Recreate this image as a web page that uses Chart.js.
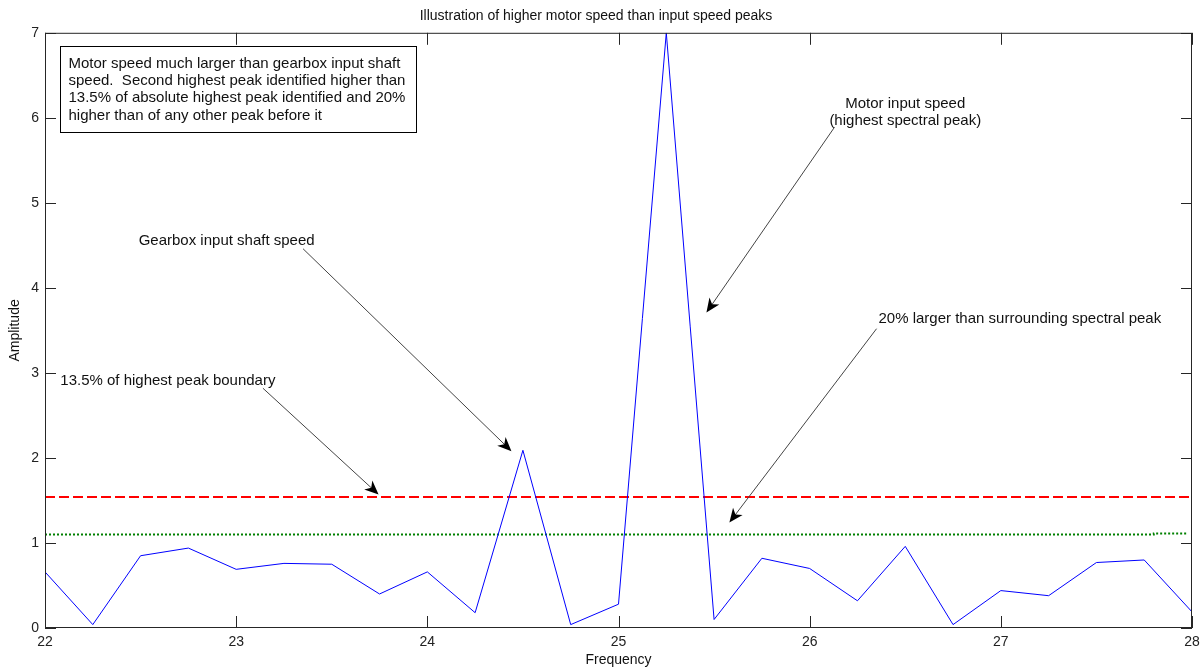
<!DOCTYPE html>
<html>
<head>
<meta charset="utf-8">
<script src="https://cdn.jsdelivr.net/npm/chart.js@4"></script>
<style>
  html, body { margin: 0; padding: 0; background: #fff; }
  #wrap { width: 1202px; height: 669px; }
</style>
</head>
<body>
<div id="wrap"><canvas id="specChart"></canvas></div>
<script>
const frequency = [22, 22.25, 22.5, 22.75, 23, 23.25, 23.5, 23.75, 24, 24.25, 24.5, 24.75, 25,
                   25.25, 25.5, 25.75, 26, 26.25, 26.5, 26.75, 27, 27.25, 27.5, 27.75, 28];
const amplitude = [0.66, 0.04, 0.85, 0.94, 0.69, 0.76, 0.75, 0.40, 0.66, 0.18, 2.09, 0.04, 0.28,
                   7.0, 0.10, 0.82, 0.70, 0.32, 0.96, 0.04, 0.44, 0.38, 0.77, 0.80, 0.19];

const boundaryX = [22, 28];
const boundaryY = [1.54, 1.54];
const surroundX = [22, 27.8, 27.8, 27.97];
const surroundY = [1.1, 1.1, 1.11, 1.11];

const xTicks = [22, 23, 24, 25, 26, 27, 28];
const yTicks = [0, 1, 2, 3, 4, 5, 6, 7];

// annotations, in data units
const labels = [
  { text: 'Gearbox input shaft speed', x: 22.49, y: 4.55, align: 'left' },
  { text: 'Motor input speed', x: 26.5, y: 6.17, align: 'center' },
  { text: '(highest spectral peak)', x: 26.5, y: 5.97, align: 'center' },
  { text: '20% larger than surrounding spectral peak', x: 26.36, y: 3.64, align: 'left' },
  { text: '13.5% of highest peak boundary', x: 22.08, y: 2.91, align: 'left' }
];
const arrows = [
  { from: [23.35, 4.46], to: [24.44, 2.08] },
  { from: [26.13, 5.89], to: [25.46, 3.71] },
  { from: [26.35, 3.52], to: [25.58, 1.24] },
  { from: [23.14, 2.82], to: [23.745, 1.57] }
];
const noteLines = [
  'Motor speed much larger than gearbox input shaft',
  'speed.  Second highest peak identified higher than',
  '13.5% of absolute highest peak identified and 20%',
  'higher than of any other peak before it'
];
const noteBox = { x0: 22.08, x1: 23.94, y0: 6.85, y1: 5.83 };

const FONT = '"Liberation Sans", Arial, sans-serif';
const pts = (xs, ys) => xs.map((x, i) => ({ x: x, y: ys[i] }));

const matlabAxes = {
  id: 'matlabAxes',
  afterDatasetsDraw(chart) {
    const { ctx, chartArea: a, scales: { x, y } } = chart;
    ctx.save();
    ctx.strokeStyle = '#262626';
    ctx.lineWidth = 1;
    ctx.strokeRect(a.left + 0.5, a.top + 0.5, a.right - a.left - 1, a.bottom - a.top - 1);
    ctx.beginPath();
    xTicks.forEach(v => {
      const px = Math.round(x.getPixelForValue(v)) + 0.5;
      ctx.moveTo(px, a.bottom); ctx.lineTo(px, a.bottom - 12);
      ctx.moveTo(px, a.top); ctx.lineTo(px, a.top + 12);
    });
    yTicks.forEach(v => {
      const py = Math.round(y.getPixelForValue(v)) + 0.5;
      ctx.moveTo(a.left, py); ctx.lineTo(a.left + 11, py);
      ctx.moveTo(a.right, py); ctx.lineTo(a.right - 11, py);
    });
    ctx.stroke();

    // note box
    const bx0 = Math.round(x.getPixelForValue(noteBox.x0)) + 0.5;
    const bx1 = Math.round(x.getPixelForValue(noteBox.x1)) + 0.5;
    const by0 = Math.round(y.getPixelForValue(noteBox.y0)) + 0.5;
    const by1 = Math.round(y.getPixelForValue(noteBox.y1)) + 0.5;
    ctx.fillStyle = '#fff';
    ctx.fillRect(bx0, by0, bx1 - bx0, by1 - by0);
    ctx.strokeStyle = '#000';
    ctx.strokeRect(bx0, by0, bx1 - bx0, by1 - by0);
    ctx.fillStyle = '#111';
    ctx.font = '15px ' + FONT;
    ctx.textAlign = 'left';
    ctx.textBaseline = 'middle';
    noteLines.forEach((t, i) => ctx.fillText(t, bx0 + 8, by0 + 17 + i * 17.4));

    // labels
    labels.forEach(l => {
      ctx.textAlign = l.align;
      ctx.fillText(l.text, x.getPixelForValue(l.x), y.getPixelForValue(l.y));
    });

    // arrows
    arrows.forEach(ar => {
      const x0 = x.getPixelForValue(ar.from[0]), y0 = y.getPixelForValue(ar.from[1]);
      const x1 = x.getPixelForValue(ar.to[0]), y1 = y.getPixelForValue(ar.to[1]);
      const ang = Math.atan2(y1 - y0, x1 - x0);
      ctx.strokeStyle = '#444';
      ctx.lineWidth = 1;
      ctx.beginPath();
      ctx.moveTo(x0, y0);
      ctx.lineTo(x1 - 8 * Math.cos(ang), y1 - 8 * Math.sin(ang));
      ctx.stroke();
      const L = 14, W = 6, N = 10;
      const c = Math.cos(ang), s = Math.sin(ang);
      ctx.fillStyle = '#000';
      ctx.beginPath();
      ctx.moveTo(x1, y1);
      ctx.lineTo(x1 - L * c - W * s, y1 - L * s + W * c);
      ctx.lineTo(x1 - N * c, y1 - N * s);
      ctx.lineTo(x1 - L * c + W * s, y1 - L * s - W * c);
      ctx.closePath();
      ctx.fill();
    });
    ctx.restore();
  }
};

new Chart(document.getElementById('specChart'), {
  type: 'line',
  data: {
    datasets: [
      {
        label: 'Spectrum',
        data: pts(frequency, amplitude),
        borderColor: 'rgb(0, 0, 255)',
        borderWidth: 1,
        pointRadius: 0,
        tension: 0
      },
      {
        label: '13.5% boundary',
        data: pts(boundaryX, boundaryY),
        borderColor: 'rgb(255, 0, 0)',
        borderWidth: 2,
        borderDash: [10, 4],
        pointRadius: 0
      },
      {
        label: '20% larger',
        data: pts(surroundX, surroundY),
        borderColor: 'rgb(0, 128, 0)',
        borderWidth: 2,
        borderDash: [2, 2],
        pointRadius: 0
      }
    ]
  },
  options: {
    responsive: true,
    maintainAspectRatio: false,
    animation: false,
    layout: { padding: { left: 0, right: 10, top: 0, bottom: 0 } },
    plugins: {
      legend: { display: false },
      tooltip: { enabled: false },
      title: {
        display: true,
        text: 'Illustration of higher motor speed than input speed peaks',
        color: '#111',
        font: { family: FONT, size: 14, weight: 'normal' },
        padding: { top: 8, bottom: 8 }
      }
    },
    scales: {
      x: {
        type: 'linear',
        min: 22,
        max: 28,
        afterBuildTicks: s => { s.ticks = xTicks.map(v => ({ value: v })); },
        afterFit: s => { s.height = 41; s.paddingRight = 0; },
        grid: { display: false, drawTicks: false },
        border: { display: false },
        ticks: { color: '#222', font: { family: FONT, size: 14 }, padding: 6, maxRotation: 0 },
        title: { display: true, text: 'Frequency', color: '#111', font: { family: FONT, size: 14 }, padding: { top: 0, bottom: 0 } }
      },
      y: {
        min: 0,
        max: 7,
        afterBuildTicks: s => { s.ticks = yTicks.map(v => ({ value: v })); },
        afterFit: s => { s.width = 45; },
        grid: { display: false, drawTicks: false },
        border: { display: false },
        ticks: { color: '#222', font: { family: FONT, size: 14 }, padding: 6 },
        title: { display: true, text: 'Amplitude', color: '#111', font: { family: FONT, size: 14 }, padding: { top: 7, bottom: 0 } }
      }
    }
  },
  plugins: [matlabAxes]
});
</script>
</body>
</html>
